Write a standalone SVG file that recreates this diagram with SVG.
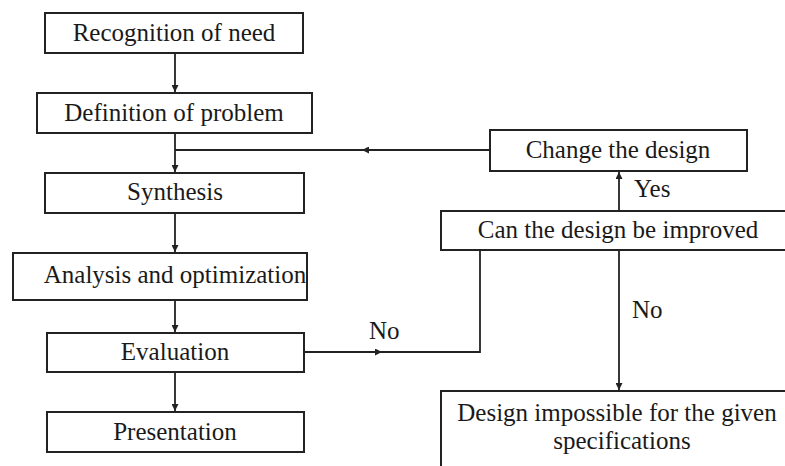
<svg xmlns="http://www.w3.org/2000/svg" width="785" height="466" viewBox="0 0 785 466">
<style>
.box{fill:#fff;stroke:#222;stroke-width:2}
.ln{fill:none;stroke:#222;stroke-width:1.8}
text{font-family:"Liberation Serif","Times New Roman",serif;font-size:25px;fill:#1a1a1a;text-anchor:middle}
.lbl{text-anchor:start}
</style>
<defs>
<marker id="ah" viewBox="0 0 10 10" refX="10" refY="5" markerWidth="8" markerHeight="7" markerUnits="userSpaceOnUse" orient="auto">
<path d="M0,0 L10,5 L0,10 Z" fill="#222"/>
</marker>
</defs>
<g id="connectors">
<line class="ln" x1="175" y1="53" x2="175" y2="92" marker-end="url(#ah)"/>
<line class="ln" x1="175" y1="133" x2="175" y2="172" marker-end="url(#ah)"/>
<line class="ln" x1="175" y1="213" x2="175" y2="252" marker-end="url(#ah)"/>
<line class="ln" x1="175" y1="300" x2="175" y2="332" marker-end="url(#ah)"/>
<line class="ln" x1="175" y1="372" x2="175" y2="411" marker-end="url(#ah)"/>
<line class="ln" x1="490" y1="150" x2="175" y2="150"/>
<line class="ln" x1="490" y1="150" x2="362" y2="150" marker-end="url(#ah)"/>
<line class="ln" x1="619" y1="211" x2="619" y2="172" marker-end="url(#ah)"/>
<polyline class="ln" points="480,250 480,352 304,352"/>
<line class="ln" x1="304" y1="352" x2="382" y2="352" marker-end="url(#ah)"/>
<line class="ln" x1="619" y1="250" x2="619" y2="390" marker-end="url(#ah)"/>
<text class="lbl" x="634" y="197">Yes</text>
<text class="lbl" x="369" y="339">No</text>
<text class="lbl" x="632" y="318">No</text>
</g>
<g id="n1"><rect class="box" x="45" y="13" width="258" height="40"/><text x="174" y="41">Recognition of need</text></g>
<g id="n2"><rect class="box" x="37" y="93" width="275" height="40"/><text x="174" y="121">Definition of problem</text></g>
<g id="n3"><rect class="box" x="45" y="173" width="259" height="40"/><text x="175" y="200">Synthesis</text></g>
<g id="n4"><rect class="box" x="13" y="253" width="294" height="47"/><text x="175" y="283">Analysis and optimization</text></g>
<g id="n5"><rect class="box" x="47" y="333" width="257" height="39"/><text x="175" y="360">Evaluation</text></g>
<g id="n6"><rect class="box" x="47" y="412" width="257" height="40"/><text x="175" y="440">Presentation</text></g>
<g id="n7"><rect class="box" x="490" y="130" width="257" height="41"/><text x="618" y="158">Change the design</text></g>
<g id="n8"><rect class="box" x="441" y="211" width="360" height="39"/><text x="618" y="238">Can the design be improved</text></g>
<g id="n9"><rect class="box" x="441" y="391" width="360" height="90"/><text x="617" y="421">Design impossible for the given</text><text x="622" y="449">specifications</text></g>
</svg>
